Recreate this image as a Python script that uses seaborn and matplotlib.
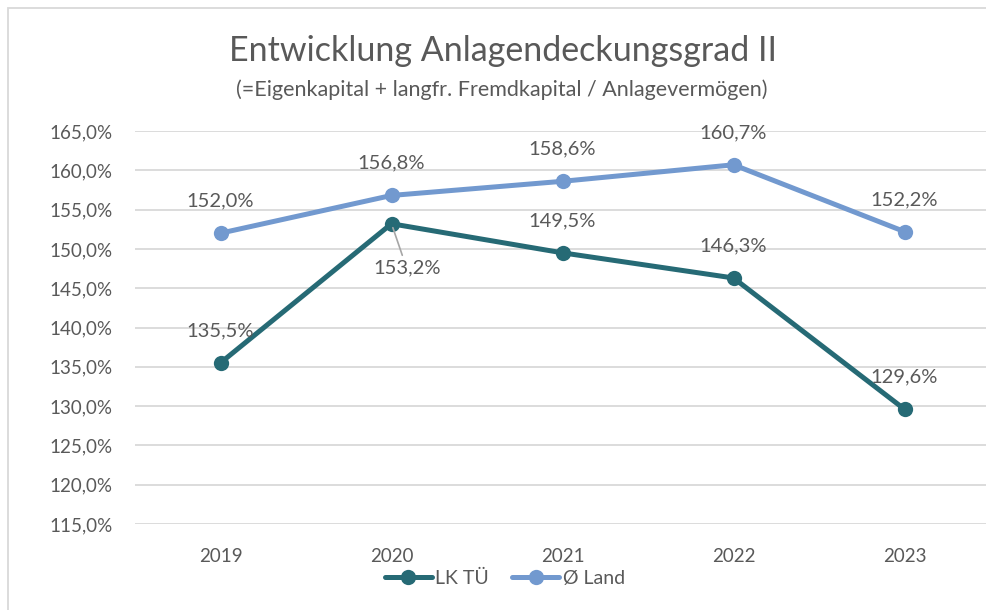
import matplotlib
matplotlib.use("Agg")
import matplotlib.pyplot as plt
import seaborn as sns
import pandas as pd
from matplotlib.patches import Rectangle
from matplotlib.lines import Line2D

years = ["2019", "2020", "2021", "2022", "2023"]
lk_tue = [135.5, 153.2, 149.5, 146.3, 129.6]
land = [152.0, 156.8, 158.6, 160.7, 152.2]
series_names = ["LK TÜ", "Ø Land"]
yticks = [115, 120, 125, 130, 135, 140, 145, 150, 155, 160, 165]

df = pd.DataFrame({
    "Jahr": years * 2,
    "Wert": lk_tue + land,
    "Reihe": [series_names[0]] * 5 + [series_names[1]] * 5,
})

sns.set_theme(style="white")
plt.rcParams["font.family"] = ["Lato", "DejaVu Sans"]
txt = "#595959"
c_lk = "#266A75"
c_land = "#7299CF"

fig = plt.figure(figsize=(9.86, 6.10), dpi=100)
ax = fig.add_axes([135 / 986, 1 - 524 / 610, (990 - 135) / 986, (524 - 131) / 610])

sns.lineplot(data=df, x="Jahr", y="Wert", hue="Reihe", palette=[c_lk, c_land],
             marker="o", markersize=11, markeredgewidth=0, linewidth=3.6,
             sort=False, legend=False, ax=ax, zorder=3)

ax.set_xlim(-0.5, 4.5)
ax.set_ylim(115, 165)
ax.set_yticks(yticks)
ax.set_yticklabels([f"{v:.1f}%".replace(".", ",") for v in yticks])
ax.grid(axis="y", color="#D9D9D9", linewidth=1.3)
ax.set_axisbelow(True)
for s in ax.spines.values():
    s.set_visible(False)
ax.tick_params(axis="both", length=0, labelsize=13.5, colors=txt)
ax.tick_params(axis="y", pad=16)
ax.tick_params(axis="x", pad=17)
ax.set_xlabel("")
ax.set_ylabel("")

def fmt(v):
    return f"{v:.1f}%".replace(".", ",")

lab_fs = 14.5
for i, v in enumerate(land):
    ax.annotate(fmt(v), (i, v), xytext=(0, 17), textcoords="offset points",
                ha="center", va="bottom", fontsize=lab_fs, color=txt)
for i, v in enumerate(lk_tue):
    if i == 1:
        ax.annotate(fmt(v), (i, v), xytext=(11, -26), textcoords="offset points",
                    ha="center", va="top", fontsize=lab_fs, color=txt,
                    arrowprops=dict(arrowstyle="-", color="#A6A6A6", lw=1.2,
                                    shrinkA=1, shrinkB=3))
    else:
        ax.annotate(fmt(v), (i, v), xytext=(0, 17), textcoords="offset points",
                    ha="center", va="bottom", fontsize=lab_fs, color=txt)

fig.text(503 / 986, 1 - 51 / 610, "Entwicklung Anlagendeckungsgrad II",
         ha="center", va="center", fontsize=24.5, color=txt)
fig.text(502 / 986, 1 - 90 / 610, "(=Eigenkapital + langfr. Fremdkapital / Anlagevermögen)",
         ha="center", va="center", fontsize=15.5, color=txt)

handles = [Line2D([0], [0], color=c_lk, lw=3.6, marker="o", markersize=11, markeredgewidth=0),
           Line2D([0], [0], color=c_land, lw=3.6, marker="o", markersize=11, markeredgewidth=0)]
fig.legend(handles, series_names, loc="center", bbox_to_anchor=(505 / 986, 1 - 578 / 610),
           ncol=2, frameon=False, fontsize=14, labelcolor=txt, handlelength=2.4,
           handletextpad=0.2, columnspacing=1.2)

fig.patches.append(Rectangle((8 / 986, -0.1), 1.2, (1 - 8 / 610) + 0.1,
                             transform=fig.transFigure, fill=False,
                             edgecolor="#D9D9D9", linewidth=1.3))

fig.savefig("out.png", dpi=100, facecolor="white")
